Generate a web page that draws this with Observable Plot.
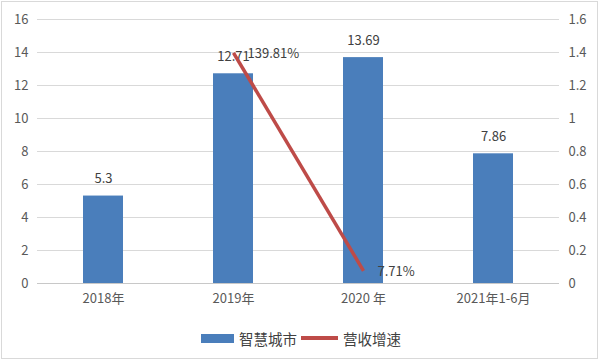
<!DOCTYPE html>
<html>
<head>
<meta charset="utf-8">
<script src="https://cdn.jsdelivr.net/npm/d3@7"></script>
<script src="https://cdn.jsdelivr.net/npm/@observablehq/plot@0.6"></script>
<style>
  html, body { margin: 0; padding: 0; background: #fff; }
  #wrap { position: relative; width: 602px; height: 362px; overflow: hidden; font-family: "Noto Sans CJK SC", "Open Sans", sans-serif; }
  #frame { position: absolute; left: 1px; top: 1px; width: 597px; height: 358px; border: 1px solid #d9d9d9; box-sizing: border-box; pointer-events: none; }
  #chart { position: absolute; left: 0; top: 0; }
  #legend { position: absolute; left: 0; top: 320px; width: 602px; height: 36px; display: flex; align-items: center; justify-content: center; font-size: 14.5px; color: #404040; }
  .sw-bar { display: inline-block; width: 33px; height: 9px; background: #4a7ebb; margin-right: 5px; }
  .sw-line { display: inline-block; width: 37px; height: 4px; background: #be4b48; margin-left: 4px; margin-right: 5px; }
</style>
</head>
<body>
<div id="wrap">
  <div id="chart"></div>
  <div id="legend"></div>
  <div id="frame"></div>
</div>
<script>
const categories = ["2018年", "2019年", "2020 年", "2021年1-6月"];
const revenue = [5.3, 12.71, 13.69, 7.86];
const revenueLabels = ["5.3", "12.71", "13.69", "7.86"];
const growthCategories = ["2019年", "2020 年"];
const growth = [1.3981, 0.0771];
const growthLabels = ["139.81%", "7.71%"];
const leftTicks = [0, 2, 4, 6, 8, 10, 12, 14, 16];
const rightTicks = [0, 0.2, 0.4, 0.6, 0.8, 1, 1.2, 1.4, 1.6];
const seriesNames = ["智慧城市", "营收增速"];

const ratio = 16 / 1.6; // right axis maps onto left axis
const bars = categories.map((c, i) => ({cat: c, value: revenue[i], label: revenueLabels[i]}));
const line = growthCategories.map((c, i) => ({cat: c, g: growth[i], label: growthLabels[i]}));

const textColor = "#595959";
const plot = Plot.plot({
  width: 602,
  height: 320,
  marginLeft: 37,
  marginRight: 43,
  marginTop: 19,
  marginBottom: 37,
  style: {fontFamily: "'Noto Sans CJK SC', 'Open Sans', sans-serif", fontSize: "13px", color: textColor, background: "transparent"},
  x: {domain: categories, padding: 0, label: null},
  y: {domain: [0, 16], label: null},
  marks: [
    Plot.gridY(leftTicks.slice(1), {stroke: "#d9d9d9", strokeOpacity: 1}),
    Plot.ruleY([0], {stroke: "#c8c8c8"}),
    Plot.barY(bars, {x: "cat", y: "value", fill: "#4a7ebb", insetLeft: 45, insetRight: 45}),
    Plot.text(bars, {x: "cat", y: "value", text: "label", dy: -17, fill: "#404040", fontSize: 13}),
    Plot.line(line, {x: "cat", y: d => d.g * ratio, stroke: "#be4b48", strokeWidth: 3.5, strokeLinecap: "butt"}),
    Plot.text(line, {x: "cat", y: d => d.g * ratio, text: "label", textAnchor: "start", dx: 14, dy: 1, fill: "#404040", fontSize: 13}),
    Plot.axisY({anchor: "left", ticks: leftTicks, tickSize: 0, tickPadding: 9, label: null, fill: textColor, fontSize: 13}),
    Plot.axisY({anchor: "right", ticks: rightTicks.map(t => t * ratio), tickFormat: (d, i) => String(rightTicks[i]), tickSize: 0, tickPadding: 9, label: null, fill: textColor, fontSize: 13}),
    Plot.axisX({tickSize: 0, tickPadding: 10, label: null, fill: textColor, fontSize: 13})
  ]
});
document.getElementById("chart").appendChild(plot);

const legend = document.getElementById("legend");
legend.innerHTML = `<span class="sw-bar"></span><span>${seriesNames[0]}</span><span class="sw-line"></span><span>${seriesNames[1]}</span>`;
</script>
</body>
</html>
